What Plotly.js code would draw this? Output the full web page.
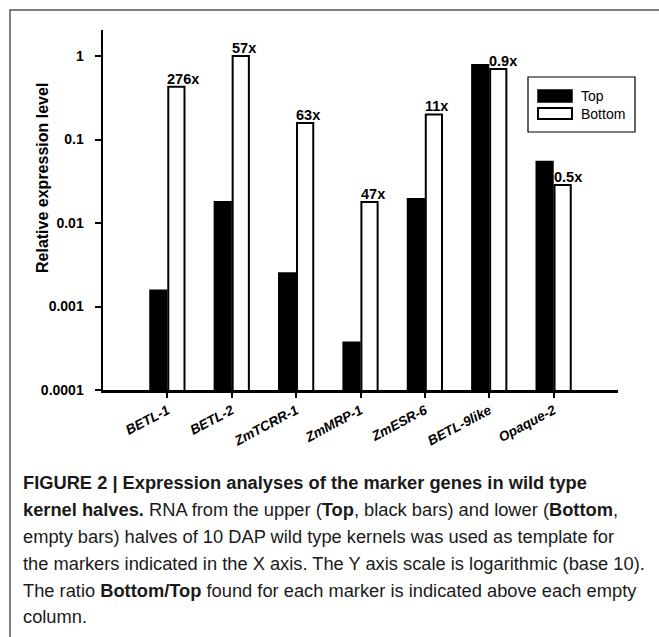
<!DOCTYPE html>
<html>
<head>
<meta charset="utf-8">
<script src="https://cdn.plot.ly/plotly-3.0.1.min.js"></script>
<style>
html, body { margin: 0; padding: 0; background: #ffffff; }
#chart { width: 659px; height: 637px; }
</style>
</head>
<body>
<div id="chart"></div>
<script>
// ---- data ----
const markers = ["BETL-1", "BETL-2", "ZmTCRR-1", "ZmMRP-1", "ZmESR-6", "BETL-9like", "Opaque-2"];
const topLevels = [0.00155, 0.0178, 0.0025, 0.00037, 0.0194, 0.78, 0.054];
const bottomLevels = [0.43, 1.0, 0.158, 0.0178, 0.20, 0.70, 0.0285];
const ratioLabels = ["276x", "57x", "63x", "47x", "11x", "0.9x", "0.5x"];
const yTickVals = [0.0001, 0.001, 0.01, 0.1, 1];
const yTickText = ["0.0001", "0.001", "0.01", "0.1", "1"];
const captionLines = [
  "<b>FIGURE 2 | Expression analyses of the marker genes in wild type</b>",
  "<b>kernel halves.</b> RNA from the upper (<b>Top</b>, black bars) and lower (<b>Bottom</b>,",
  "empty bars) halves of 10 DAP wild type kernels was used as template for",
  "the markers indicated in the X axis. The Y axis scale is logarithmic (base 10).",
  "The ratio <b>Bottom/Top</b> found for each marker is indicated above each empty",
  "column."
];

// ---- layout geometry ----
const W = 659, H = 637;
const M = { l: 103, r: 41, t: 30, b: 247 };
const pw = W - M.l - M.r, ph = H - M.t - M.b;
const px = x => (x - M.l) / pw;
const py = y => (H - M.b - y) / ph;
const FONT = "Liberation Sans, Arial, Helvetica, sans-serif";

const traces = [
  {
    type: "bar", name: "Top", x: markers, y: topLevels,
    marker: { color: "#000000", line: { color: "#000000", width: 2 } },
    hoverinfo: "x+y"
  },
  {
    type: "bar", name: "Bottom", x: markers, y: bottomLevels,
    marker: { color: "#ffffff", line: { color: "#000000", width: 2 } },
    hoverinfo: "x+y"
  }
];

const annotations = [];
markers.forEach((m, i) => {
  annotations.push({
    x: m, y: Math.log10(bottomLevels[i]), xref: "x", yref: "y",
    text: "<b>" + ratioLabels[i] + "</b>", showarrow: false,
    xanchor: "left", yanchor: "bottom", xshift: -2, yshift: -2,
    font: { family: FONT, size: 14.5, color: "#000" }
  });
});

// y axis title
annotations.push({
  x: px(42), y: py(178), xref: "paper", yref: "paper",
  text: "<b>Relative expression level</b>", textangle: -90, showarrow: false,
  xanchor: "center", yanchor: "middle",
  font: { family: FONT, size: 16, color: "#000" }
});

// legend texts
annotations.push({
  x: px(579), y: py(96), xref: "paper", yref: "paper", text: "Top",
  showarrow: false, xanchor: "left", yanchor: "middle",
  font: { family: FONT, size: 14, color: "#000" }
});
annotations.push({
  x: px(579), y: py(114), xref: "paper", yref: "paper", text: "Bottom",
  showarrow: false, xanchor: "left", yanchor: "middle",
  font: { family: FONT, size: 14, color: "#000" }
});

// caption
const centers = [482, 509, 536, 563, 590, 616];
captionLines.forEach((t, i) => {
  annotations.push({
    x: px(21), y: py(centers[i]), xref: "paper", yref: "paper", text: t,
    showarrow: false, xanchor: "left", yanchor: "middle", align: "left",
    font: { family: FONT, size: 18.3, color: "#1a1a1a" }
  });
});

const shapes = [
  // outer frame
  { type: "rect", xref: "paper", yref: "paper", x0: px(10), y0: py(10), x1: px(720), y1: py(720),
    line: { color: "#555555", width: 1.5 }, fillcolor: "rgba(0,0,0,0)", layer: "below" },
  // legend box
  { type: "rect", xref: "paper", yref: "paper", x0: px(528), y0: py(77), x1: px(635), y1: py(132),
    line: { color: "#000000", width: 1.2 }, fillcolor: "#ffffff" },
  // legend swatches
  { type: "rect", xref: "paper", yref: "paper", x0: px(538), y0: py(90), x1: px(572), y1: py(102),
    line: { color: "#000000", width: 1.5 }, fillcolor: "#000000" },
  { type: "rect", xref: "paper", yref: "paper", x0: px(538), y0: py(108), x1: px(572), y1: py(119),
    line: { color: "#000000", width: 2 }, fillcolor: "#ffffff" }
];

const layout = {
  width: W, height: H,
  margin: M,
  paper_bgcolor: "#ffffff", plot_bgcolor: "#ffffff",
  showlegend: false,
  barmode: "group", bargap: 0.44, bargroupgap: 0.1,
  font: { family: FONT, color: "#000" },
  xaxis: {
    type: "category", range: [-1, 7],
    showline: true, linecolor: "#000", linewidth: 2.5,
    ticks: "outside", ticklen: 5, tickwidth: 2, tickcolor: "#000",
    tickangle: -28, showgrid: false, zeroline: false,
    tickfont: { family: FONT, size: 13.5, weight: "bold", style: "italic", color: "#000" }
  },
  yaxis: {
    type: "log", range: [-4, Math.log10(2.05)],
    tickvals: yTickVals, ticktext: yTickText,
    showline: true, linecolor: "#000", linewidth: 2.5,
    ticks: "outside", ticklen: 6, tickwidth: 2, tickcolor: "#000",
    showgrid: false, zeroline: false, ticklabelstandoff: 8,
    tickfont: { family: FONT, size: 14, weight: "bold", color: "#000" }
  },
  annotations: annotations,
  shapes: shapes
};

Plotly.newPlot("chart", traces, layout, { displayModeBar: false, staticPlot: true });
</script>
</body>
</html>
